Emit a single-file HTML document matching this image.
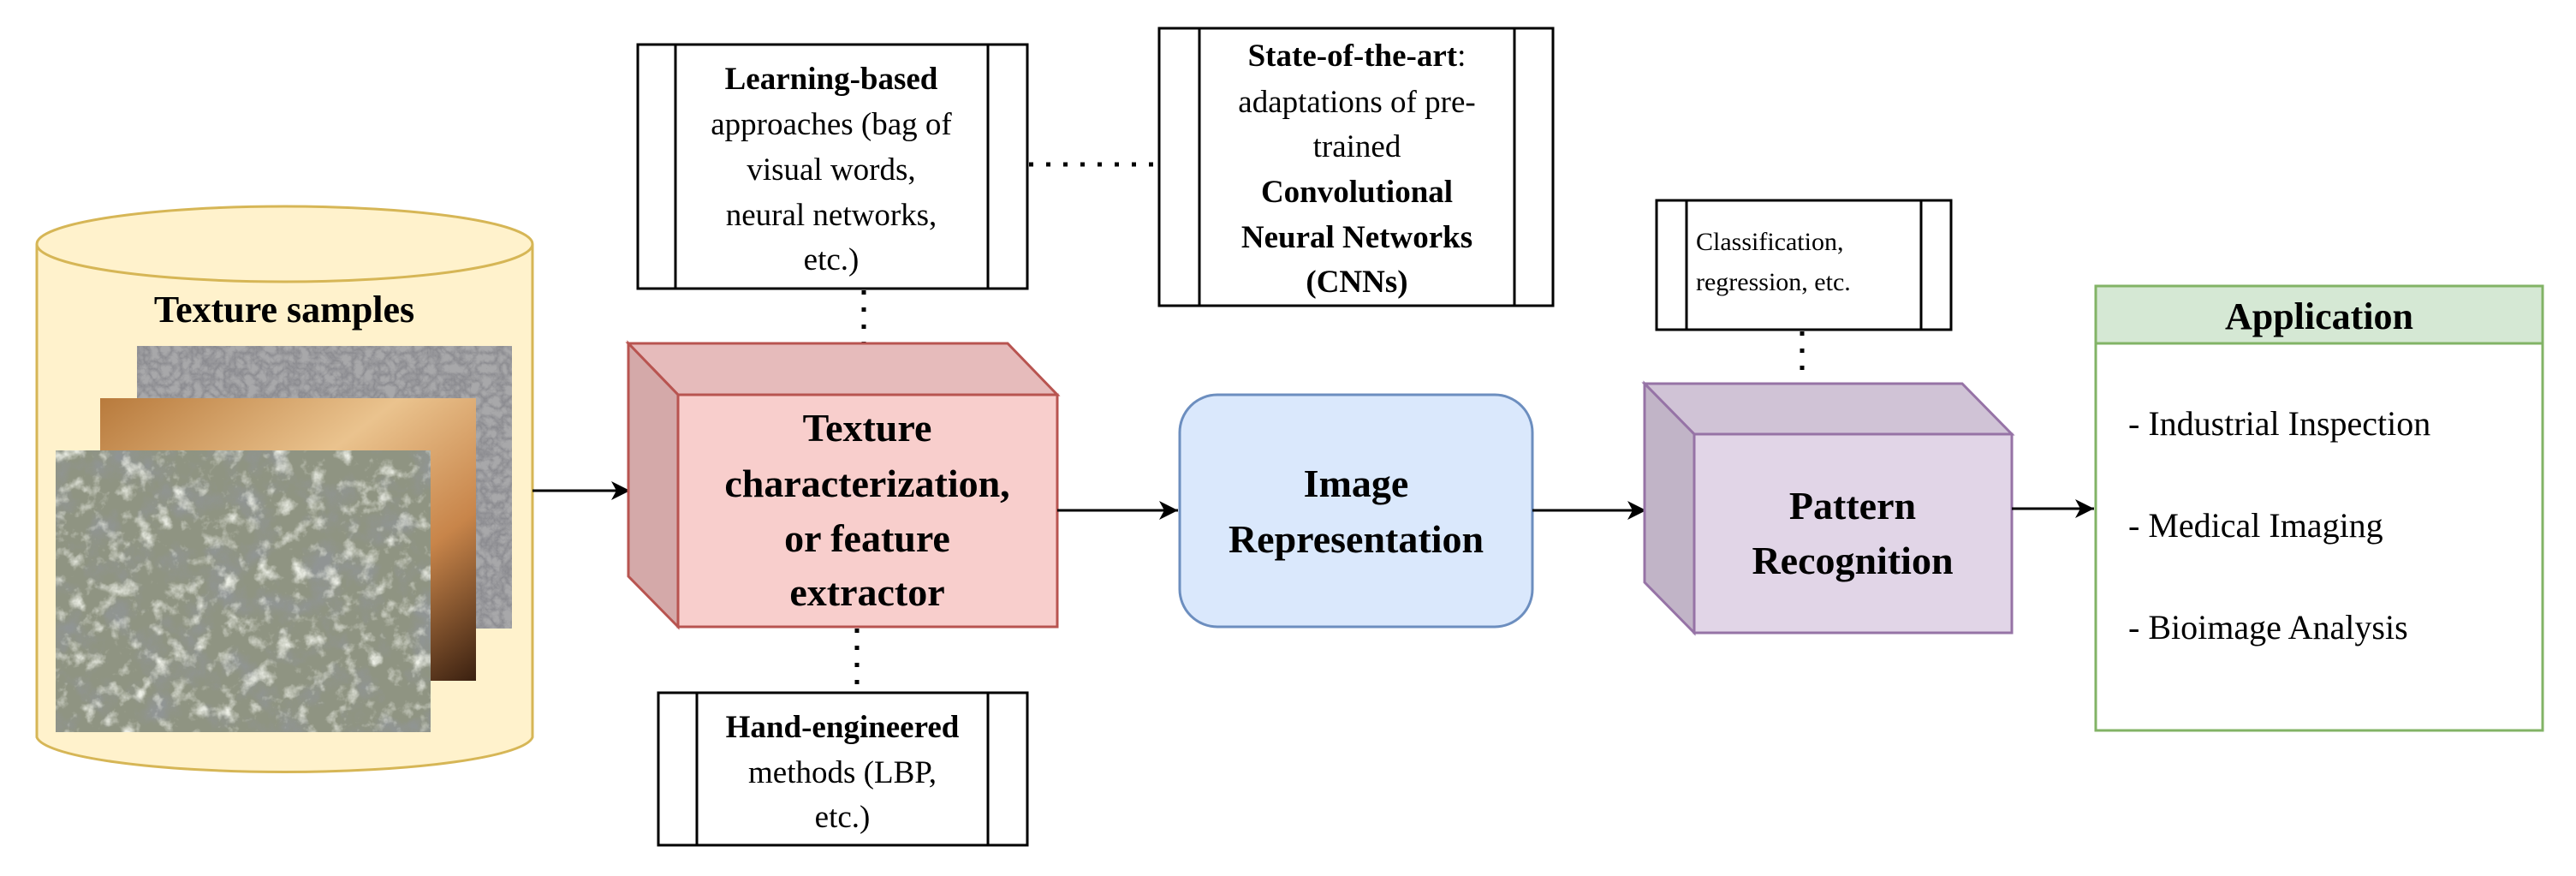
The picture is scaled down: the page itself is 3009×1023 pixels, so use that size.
<!DOCTYPE html>
<html><head><meta charset="utf-8"><style>
html,body{margin:0;padding:0;background:#fff;}
svg{display:block;}
svg text{font-family:"Liberation Serif","Times New Roman","DejaVu Serif",serif !important;fill:#000;}
.b{font-weight:bold;}
</style></head><body>
<svg width="3009" height="1023" viewBox="0 0 3009 1023" xmlns="http://www.w3.org/2000/svg" font-family="Liberation Serif, Times New Roman, DejaVu Serif, serif">
<defs>
<marker id="ar" markerWidth="24" markerHeight="24" refX="22" refY="11" orient="auto" markerUnits="userSpaceOnUse">
<path d="M0,0 L22,11 L0,22 L6,11 Z" fill="#000"/>
</marker>
<filter id="rock" x="0" y="0" width="100%" height="100%">
<feTurbulence type="fractalNoise" baseFrequency="0.025" numOctaves="5" seed="3"/>
<feColorMatrix type="matrix" values="0 0 0 0 0.28  0 0 0 0 0.3  0 0 0 0 0.3  2.2 -1.6 0 0 -0.2"/>
<feComposite in2="SourceGraphic" operator="in"/>
</filter>
<filter id="rock2" x="0" y="0" width="100%" height="100%">
<feTurbulence type="fractalNoise" baseFrequency="0.05" numOctaves="4" seed="11"/>
<feColorMatrix type="matrix" values="0 0 0 0 0.85  0 0 0 0 0.87  0 0 0 0 0.8  0 2.2 -1.6 0 -0.35"/>
<feComposite in2="SourceGraphic" operator="in"/>
</filter>
<filter id="bark" x="0" y="0" width="100%" height="100%">
<feTurbulence type="turbulence" baseFrequency="0.08" numOctaves="3" seed="7"/>
<feColorMatrix type="matrix" values="0 0 0 0 0.25  0 0 0 0 0.25  0 0 0 0 0.27  0 0 -2 0 1"/>
<feComposite in2="SourceGraphic" operator="in"/>
</filter>
<linearGradient id="tan" x1="0" y1="0" x2="1" y2="1">
<stop offset="0" stop-color="#b87a3c"/><stop offset="0.4" stop-color="#eac38e"/><stop offset="0.7" stop-color="#c8854a"/><stop offset="1" stop-color="#3a2010"/>
</linearGradient>
</defs>

<!-- cylinder -->
<path d="M43,285 L43,861 A290,43 0 0 0 622,861 L622,285" fill="#fff2cc" stroke="#d6b656" stroke-width="3"/>
<ellipse cx="332.5" cy="285" rx="289.5" ry="44" fill="#fff2cc" stroke="#d6b656" stroke-width="3"/>
<text x="332" y="376" font-size="44" class="b" text-anchor="middle">Texture samples</text>
<rect x="160" y="404" width="438" height="330" fill="#a8a8aa"/>
<rect x="160" y="404" width="438" height="330" fill="#fff" filter="url(#bark)"/>
<rect x="117" y="465" width="439" height="330" fill="url(#tan)"/>
<rect x="65" y="526" width="438" height="329" fill="#8f9482"/>
<rect x="65" y="526" width="438" height="329" fill="#fff" filter="url(#rock)"/>
<rect x="65" y="526" width="438" height="329" fill="#fff" filter="url(#rock2)"/>

<!-- arrow cylinder->red -->
<line x1="622" y1="573" x2="736" y2="573" stroke="#000" stroke-width="3" marker-end="url(#ar)"/>

<!-- Learning box -->
<rect x="745" y="52" width="455" height="285" fill="#fff" stroke="#000" stroke-width="3"/>
<line x1="789" y1="52" x2="789" y2="337" stroke="#000" stroke-width="3"/>
<line x1="1154" y1="52" x2="1154" y2="337" stroke="#000" stroke-width="3"/>
<g font-size="37" text-anchor="middle">
<text x="971" y="104" class="b">Learning-based</text>
<text x="971" y="157">approaches (bag of</text>
<text x="971" y="210">visual words,</text>
<text x="971" y="263">neural networks,</text>
<text x="971" y="315">etc.)</text>
</g>
<line x1="1202" y1="192" x2="1354" y2="192" stroke="#000" stroke-width="5" stroke-dasharray="5,15"/>
<line x1="1009" y1="339" x2="1009" y2="401" stroke="#000" stroke-width="5" stroke-dasharray="5,15"/>

<!-- SOTA box -->
<rect x="1354" y="33" width="460" height="324" fill="#fff" stroke="#000" stroke-width="3"/>
<line x1="1401" y1="33" x2="1401" y2="357" stroke="#000" stroke-width="3"/>
<line x1="1769" y1="33" x2="1769" y2="357" stroke="#000" stroke-width="3"/>
<g font-size="37" text-anchor="middle">
<text x="1585" y="77"><tspan class="b">State-of-the-art</tspan>:</text>
<text x="1585" y="131">adaptations of pre-</text>
<text x="1585" y="183">trained</text>
<text x="1585" y="236" class="b">Convolutional</text>
<text x="1585" y="289" class="b">Neural Networks</text>
<text x="1585" y="341" class="b">(CNNs)</text>
</g>

<!-- Red cube -->
<path d="M734,401 L1177,401 L1235,461 L792,461 Z" fill="#e6bbbb" stroke="#b85450" stroke-width="3"/>
<path d="M734,401 L792,461 L792,732 L734,673 Z" fill="#d4a9a9" stroke="#b85450" stroke-width="3"/>
<rect x="792" y="461" width="443" height="271" fill="#f8cecc" stroke="#b85450" stroke-width="3"/>
<g font-size="46" class="b" text-anchor="middle">
<text x="1013" y="515">Texture</text>
<text x="1013" y="580">characterization,</text>
<text x="1013" y="644">or feature</text>
<text x="1013" y="707">extractor</text>
</g>
<line x1="1001" y1="734" x2="1001" y2="809" stroke="#000" stroke-width="5" stroke-dasharray="5,15"/>

<!-- Hand box -->
<rect x="769" y="809" width="431" height="178" fill="#fff" stroke="#000" stroke-width="3"/>
<line x1="814" y1="809" x2="814" y2="987" stroke="#000" stroke-width="3"/>
<line x1="1154" y1="809" x2="1154" y2="987" stroke="#000" stroke-width="3"/>
<g font-size="37" text-anchor="middle">
<text x="984" y="861" class="b">Hand-engineered</text>
<text x="984" y="914">methods (LBP,</text>
<text x="984" y="966">etc.)</text>
</g>

<!-- arrow red->image -->
<line x1="1235" y1="596" x2="1376" y2="596" stroke="#000" stroke-width="3" marker-end="url(#ar)"/>

<!-- Image rep -->
<rect x="1378" y="461" width="412" height="271" rx="44" ry="44" fill="#dae8fc" stroke="#6c8ebf" stroke-width="3"/>
<g font-size="46" class="b" text-anchor="middle">
<text x="1584" y="580">Image</text>
<text x="1584" y="645">Representation</text>
</g>

<line x1="1790" y1="596" x2="1923" y2="596" stroke="#000" stroke-width="3" marker-end="url(#ar)"/>

<!-- Classification box -->
<rect x="1935" y="234" width="344" height="151" fill="#fff" stroke="#000" stroke-width="3"/>
<line x1="1970" y1="234" x2="1970" y2="385" stroke="#000" stroke-width="3"/>
<line x1="2244" y1="234" x2="2244" y2="385" stroke="#000" stroke-width="3"/>
<g font-size="30">
<text x="1981" y="292">Classification,</text>
<text x="1981" y="339">regression, etc.</text>
</g>
<line x1="2105" y1="387" x2="2105" y2="448" stroke="#000" stroke-width="5" stroke-dasharray="5,15"/>

<!-- Purple cube -->
<path d="M1921,448 L2292,448 L2350,507 L1979,507 Z" fill="#d0c3d6" stroke="#9673a6" stroke-width="3"/>
<path d="M1921,448 L1979,507 L1979,739 L1921,680 Z" fill="#c1b4c7" stroke="#9673a6" stroke-width="3"/>
<rect x="1979" y="507" width="371" height="232" fill="#e1d5e7" stroke="#9673a6" stroke-width="3"/>
<g font-size="46" class="b" text-anchor="middle">
<text x="2164" y="606">Pattern</text>
<text x="2164" y="670">Recognition</text>
</g>

<line x1="2350" y1="594" x2="2446" y2="594" stroke="#000" stroke-width="3" marker-end="url(#ar)"/>

<!-- Application -->
<rect x="2448" y="334" width="522" height="519" fill="#fff" stroke="#82b366" stroke-width="3"/>
<rect x="2448" y="334" width="522" height="67" fill="#d5e8d4" stroke="#82b366" stroke-width="3"/>
<text x="2709" y="384" font-size="44" class="b" text-anchor="middle">Application</text>
<g font-size="40">
<text x="2486" y="508">- Industrial Inspection</text>
<text x="2486" y="627">- Medical Imaging</text>
<text x="2486" y="746">- Bioimage Analysis</text>
</g>
</svg>
</body></html>
